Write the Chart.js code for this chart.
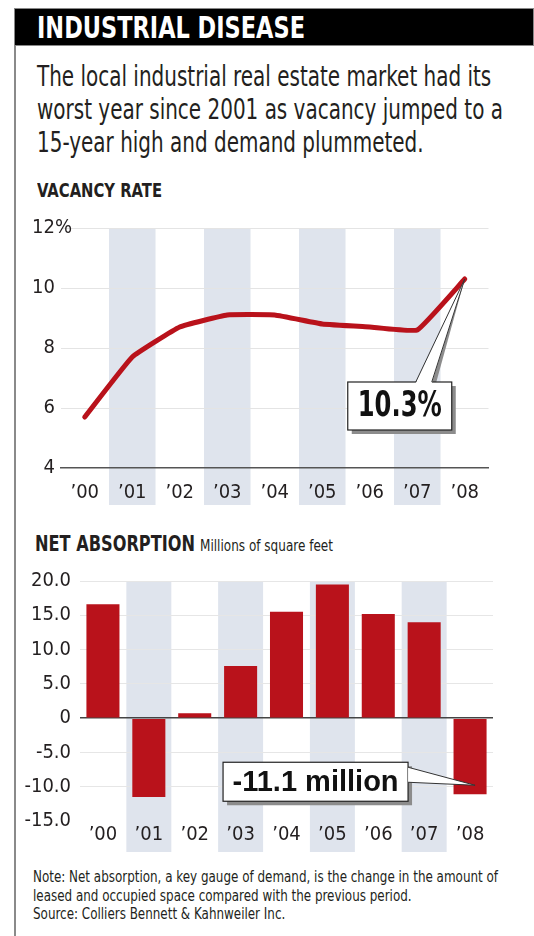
<!DOCTYPE html>
<html>
<head>
<meta charset="utf-8">
<script src="https://cdn.jsdelivr.net/npm/chart.js@4.4.1/dist/chart.umd.min.js"></script>
<style>
  html, body { margin: 0; padding: 0; background: #fff; }
  body { width: 534px; height: 936px; position: relative; overflow: hidden;
         font-family: "Liberation Sans Narrow", "DejaVu Sans Condensed", "Roboto Condensed", sans-serif; color: #231f20; }
  .abs { position: absolute; white-space: nowrap; transform-origin: 0 0; }
  #rule { left: 14px; top: 8px; width: 2px; height: 928px; background: #8a8a8a; }
  #bar { left: 14px; top: 8px; width: 520px; height: 38px; background: #000; border: 1px solid #888; box-sizing: border-box; }
  #title { left: 37px; top: 12px; font-size: 31px; line-height: 31px; font-weight: bold; color: #fff; }
  #dek { left: 37px; top: 60px; font-size: 28px; line-height: 33px; }
  #h1 { left: 37px; top: 181px; font-size: 19px; line-height: 19px; font-weight: bold; }
  #h2 { left: 35px; top: 534px; font-size: 21px; line-height: 21px; font-weight: bold; }
  #h2s { left: 200px; top: 539px; font-size: 15px; line-height: 15px; }
  #note { left: 33px; top: 868px; font-size: 16px; line-height: 18.5px; }
  canvas { position: absolute; left: 0; }
</style>
</head>
<body>
<div class="abs" id="rule"></div>
<div class="abs" id="bar"></div>
<div class="abs" id="title">INDUSTRIAL DISEASE</div>
<div class="abs" id="dek">The local industrial real estate market had its<br>worst year since 2001 as vacancy jumped to a<br>15-year high and demand plummeted.</div>
<div class="abs" id="h1">VACANCY RATE</div>
<canvas id="vacancy" width="534" height="310" style="top:200px"></canvas>
<div class="abs" id="h2">NET ABSORPTION</div>
<div class="abs" id="h2s">Millions of square feet</div>
<canvas id="absorption" width="534" height="300" style="top:560px"></canvas>
<div class="abs" id="note">Note: Net absorption, a key gauge of demand, is the change in the amount of<br>leased and occupied space compared with the previous period.<br>Source: Colliers Bennett &amp; Kahnweiler Inc.</div>

<script>
// データ
const years = ['’00', '’01', '’02', '’03', '’04', '’05', '’06', '’07', '’08'];
const vacancyRate = [5.7, 7.7, 8.7, 9.1, 9.1, 8.8, 8.7, 8.6, 10.3];
const netAbsorption = [16.6, -11.5, 0.7, 7.6, 15.5, 19.5, 15.2, 14.0, -11.1];
const vacancyAxis = [4, 12, 2];        // min, max, step
const absorptionAxis = [-15, 20, 5];
const shadedYears = [1, 3, 5, 7];
const vacancyLabel = '10.3%';
const absorptionLabel = '-11.1 million';

const FONT = '"Liberation Sans Narrow", "DejaVu Sans Condensed", "Roboto Condensed", sans-serif';
const WIDE = '"Liberation Sans", Arial, sans-serif';
const RED = '#b9121b';
const BAND = '#dfe4ed';

// 見出しの文字幅を原図に合わせる（細い書体の代わり）
function fit(id, target) {
    const el = document.getElementById(id);
    const w = el.getBoundingClientRect().width;
    el.style.transform = 'scaleX(' + (target / w) + ')';
}
fit('title', 268);
fit('dek', 466);
fit('h1', 125);
fit('h2', 160);
fit('h2s', 133);
fit('note', 465);

Chart.defaults.animation = false;
Chart.defaults.font.family = FONT;
Chart.defaults.color = '#231f20';

// 背景の縦帯
function bandsPlugin(bottom) {
    return {
        id: 'bands',
        beforeDraw(chart) {
            const {ctx, chartArea, scales: {x}} = chart;
            const step = x.getPixelForValue(1) - x.getPixelForValue(0);
            const w = step * 0.98;
            ctx.save();
            ctx.fillStyle = BAND;
            shadedYears.forEach(i => {
                const cx = x.getPixelForValue(i);
                ctx.fillRect(cx - w / 2, chartArea.top, w, bottom - chartArea.top);
            });
            ctx.restore();
        }
    };
}

function calloutBox(ctx, l, t, r, b, text, font, textWidth) {
    ctx.fillStyle = '#8c8c8c';
    ctx.fillRect(l + 4, t + 4, r - l, b - t);
    ctx.fillStyle = '#fff';
    ctx.fillRect(l, t, r - l, b - t);
    ctx.strokeStyle = '#222';
    ctx.lineWidth = 1.2;
    ctx.strokeRect(l, t, r - l, b - t);
    ctx.fillStyle = '#111';
    ctx.font = font;
    ctx.textAlign = 'center';
    ctx.textBaseline = 'middle';
    const k = Math.min(1, textWidth / ctx.measureText(text).width);
    ctx.save();
    ctx.translate((l + r) / 2, (t + b) / 2 + 1);
    ctx.scale(k, 1);
    ctx.fillText(text, 0, 0);
    ctx.restore();
}

// 1. 空室率
new Chart(document.getElementById('vacancy').getContext('2d'), {
    type: 'line',
    data: {
        labels: years,
        datasets: [{
            data: vacancyRate,
            borderColor: RED,
            borderWidth: 5,
            pointRadius: 0,
            tension: 0.1,
            borderCapStyle: 'round',
            borderJoinStyle: 'round'
        }]
    },
    options: {
        responsive: false,
        layout: { padding: { top: 28, right: 45.5, bottom: 0, left: 0 } },
        plugins: { legend: { display: false }, tooltip: { enabled: false } },
        scales: {
            x: {
                offset: true,
                grid: { display: false },
                border: { display: true, color: '#555', width: 1.5 },
                ticks: { font: { size: 20 }, padding: 5, autoSkip: false, maxRotation: 0 },
                afterFit: s => { s.height = 42; }
            },
            y: {
                min: vacancyAxis[0], max: vacancyAxis[1],
                border: { display: false },
                grid: {
                    drawTicks: false,
                    color: c => c.tick.value === vacancyAxis[0] ? 'rgba(0,0,0,0)' : '#e4e4e4'
                },
                ticks: { stepSize: vacancyAxis[2], font: { size: 20 }, padding: 6 },
                afterFit: s => { s.width = 61; }
            }
        }
    },
    plugins: [bandsPlugin(305), {
        id: 'pct',
        afterDraw(chart) {
            const {ctx, scales: {y}} = chart;
            ctx.save();
            ctx.font = '20px ' + FONT;
            ctx.fillStyle = '#231f20';
            ctx.textAlign = 'left';
            ctx.textBaseline = 'middle';
            ctx.fillText('%', y.right - 6, y.getPixelForValue(vacancyAxis[1]));
            ctx.restore();
        }
    }, {
        id: 'callout1',
        afterDatasetsDraw(chart) {
            const {ctx} = chart;
            const pt = chart.getDatasetMeta(0).data[8];
            const px = pt.x, py = pt.y;
            const l = px - 117, r = px - 13, t = py + 103, b = py + 151;
            ctx.save();
            // wedge shadow
            ctx.fillStyle = '#8c8c8c';
            ctx.beginPath();
            ctx.moveTo(px, py);
            ctx.lineTo(px - 29, t + 2);
            ctx.lineTo(px - 34, t + 2);
            ctx.closePath();
            ctx.fill();
            calloutBox(ctx, l, t, r, b, vacancyLabel, 'bold 35px ' + FONT, 84);
            ctx.fillStyle = '#fff';
            ctx.beginPath();
            ctx.moveTo(px, py);
            ctx.lineTo(px - 33, t + 1);
            ctx.lineTo(px - 49, t + 1);
            ctx.closePath();
            ctx.fill();
            ctx.strokeStyle = '#333';
            ctx.lineWidth = 1;
            ctx.beginPath();
            ctx.moveTo(px - 49, t);
            ctx.lineTo(px, py);
            ctx.lineTo(px - 33, t);
            ctx.stroke();
            ctx.restore();
        }
    }]
});

// 2. ネットアブソープション
new Chart(document.getElementById('absorption').getContext('2d'), {
    type: 'bar',
    data: {
        labels: years,
        datasets: [{
            data: netAbsorption,
            backgroundColor: RED,
            barPercentage: 0.72,
            categoryPercentage: 1
        }]
    },
    options: {
        responsive: false,
        layout: { padding: { top: 21, right: 41, bottom: 0, left: 0 } },
        plugins: { legend: { display: false }, tooltip: { enabled: false } },
        scales: {
            x: {
                grid: { display: false },
                border: { display: false },
                ticks: { font: { size: 20 }, padding: -6, autoSkip: false, maxRotation: 0 },
                afterFit: s => { s.height = 39; }
            },
            y: {
                min: absorptionAxis[0], max: absorptionAxis[1],
                border: { display: false },
                grid: {
                    drawTicks: false,
                    color: c => c.tick.value === 0 ? '#444' : (c.tick.value === absorptionAxis[0] ? 'rgba(0,0,0,0)' : '#e6e6e6'),
                    lineWidth: c => c.tick.value === 0 ? 1.5 : 1
                },
                ticks: {
                    stepSize: absorptionAxis[2], font: { size: 20 }, padding: 9,
                    callback: v => v === 0 ? '0' : v.toFixed(1)
                },
                afterFit: s => { s.width = 80; }
            }
        }
    },
    plugins: [bandsPlugin(292), {
        id: 'callout2',
        afterDatasetsDraw(chart) {
            const {ctx} = chart;
            const bar = chart.getDatasetMeta(0).data[8];
            const bx = bar.x, by = bar.y;
            const l = bx - 247, r = bx - 62, t = by - 32, b = by + 7;
            ctx.save();
            calloutBox(ctx, l, t, r, b, absorptionLabel, 'bold 29px ' + WIDE, 172);
            ctx.fillStyle = '#fff';
            ctx.beginPath();
            ctx.moveTo(r, t + 5);
            ctx.lineTo(bx + 5, by - 9);
            ctx.lineTo(r, t + 20);
            ctx.closePath();
            ctx.fill();
            ctx.strokeStyle = '#333';
            ctx.lineWidth = 1;
            ctx.beginPath();
            ctx.moveTo(r, t + 5);
            ctx.lineTo(bx + 5, by - 9);
            ctx.lineTo(r, t + 20);
            ctx.stroke();
            ctx.restore();
        }
    }]
});
</script>
</body>
</html>
